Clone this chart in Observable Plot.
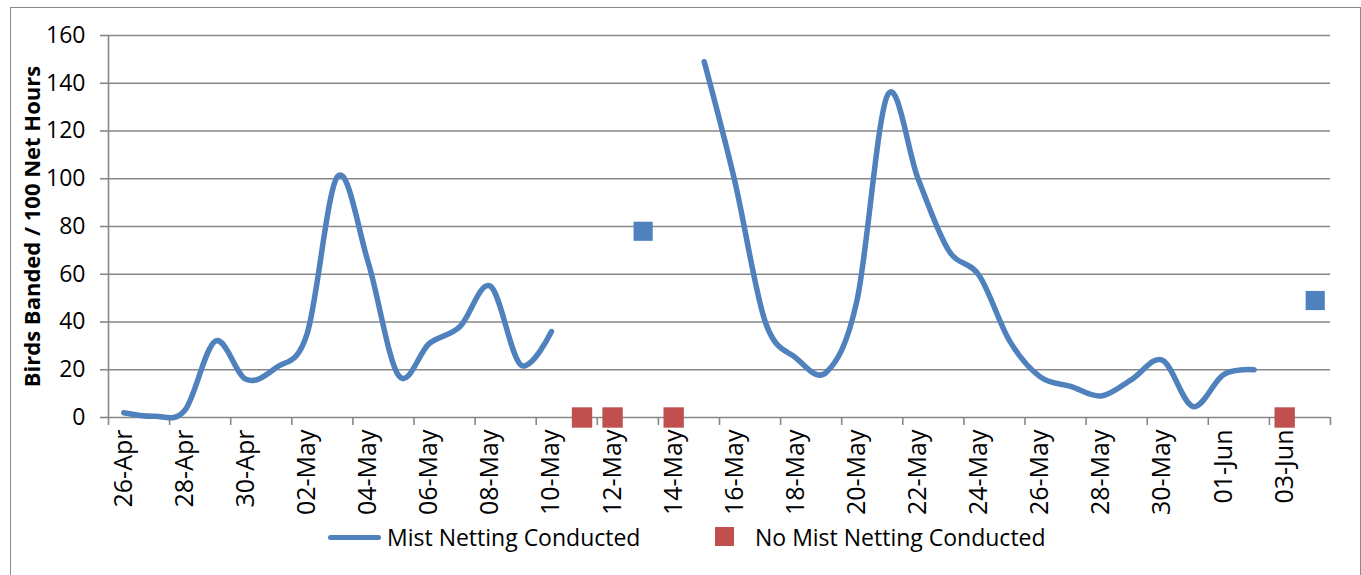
<!DOCTYPE html>
<html><head><meta charset="utf-8">
<script src="https://cdn.jsdelivr.net/npm/d3@7"></script>
<script src="https://cdn.jsdelivr.net/npm/@observablehq/plot@0.6"></script>
<style>
body{margin:0;background:#fff;font-family:"Open Sans",sans-serif;}
#wrap{position:relative;width:1361px;height:575px;overflow:hidden;background:#fff;}
#frame{position:absolute;left:10px;top:7px;width:1351px;height:620px;border:1.5px solid #8a8a8a;box-sizing:border-box;}
#chart{position:absolute;left:0;top:0;}
.lg{position:absolute;font-size:23px;line-height:30px;color:#000;white-space:nowrap;}
.sw-line{position:absolute;left:328px;top:535px;width:53px;height:5px;background:#4F81BD;border-radius:3px;}
.sw-sq{position:absolute;left:715px;top:527px;width:19px;height:19px;background:#C0504D;}
</style>
</head><body>
<div id="wrap">
  <div id="frame"></div>
  <div id="chart"></div>
  <div class="sw-line"></div><div class="lg" id="lg1" style="left:387px;top:522px;"></div>
  <div class="sw-sq"></div><div class="lg" id="lg2" style="left:755px;top:522px;"></div>
</div>
<script>
// ---- data ----
const dates = ["26-Apr","27-Apr","28-Apr","29-Apr","30-Apr",
  "01-May","02-May","03-May","04-May","05-May","06-May","07-May","08-May","09-May","10-May",
  "11-May","12-May","13-May","14-May","15-May","16-May","17-May","18-May","19-May","20-May",
  "21-May","22-May","23-May","24-May","25-May","26-May","27-May","28-May","29-May","30-May","31-May",
  "01-Jun","02-Jun","03-Jun","04-Jun"];
const mistNetting = [2, 0.5, 3, 32, 16, 21, 35, 101, 65, 17.5, 31, 38, 55, 22, 36,
  null, null, 78, null, 149, 99, 40, 25, 19, 49, 135, 100, 70, 59.5, 32, 17, 13, 9, 16, 24, 4.6,
  18, 20, null, 49];
const noNettingDates = ["11-May","12-May","14-May","03-Jun"];
const noNettingValues = [0, 0, 0, 0];
const yTicks = [0, 20, 40, 60, 80, 100, 120, 140, 160];
const seriesNames = ["Mist Netting Conducted", "No Mist Netting Conducted"];
const yTitle = "Birds Banded / 100 Net Hours";

// ---- derived tables ----
const lineData = dates.map((d, i) => ({x: i + 0.5, y: mistNetting[i]}));
const isolated = lineData.filter((p, i) => p.y != null &&
  (i === 0 || mistNetting[i-1] == null) && (i === dates.length-1 || mistNetting[i+1] == null));
const noNetting = noNettingDates.map((d, i) => ({x: dates.indexOf(d) + 0.5, y: noNettingValues[i]}));
const boundaryTicks = d3.range(0, dates.length + 1, 2);
const labelTicks = d3.range(0, dates.length, 2).map(i => i + 0.5);

const W = 1361, H = 520, yBottom = 417;
const grey = "#878787";
const chart = Plot.plot({
  width: W, height: H,
  marginLeft: 108, marginRight: 31, marginTop: 35, marginBottom: H - yBottom,
  style: {fontFamily: '"Open Sans", sans-serif', fontSize: "23px", color: "#000", background: "transparent", overflow: "visible"},
  x: {domain: [0, dates.length], axis: null},
  y: {domain: [0, 160], axis: null},
  marks: [
    Plot.gridY(yTicks, {stroke: grey, strokeOpacity: 1, strokeWidth: 1.6}),
    Plot.ruleX([0], {stroke: grey, strokeWidth: 1.6}),
    Plot.axisY({ticks: yTicks, tickSize: 8, tickPadding: 15, stroke: grey, strokeWidth: 1.6, fill: "#000", label: null}),
    Plot.axisX({ticks: boundaryTicks, tickSize: 8, tickFormat: () => "", stroke: grey, strokeWidth: 1.6, label: null}),
    Plot.axisX({ticks: labelTicks, tickSize: 0, tickPadding: 12, tickRotate: -90, fontSize: 25,
      tickFormat: v => dates[Math.floor(v)], fill: "#000", label: null}),
    Plot.text([yTitle], {frameAnchor: "left", dx: -76, rotate: -90, textAnchor: "middle", fontWeight: "bold", fontSize: 22, fill: "#000"}),
    Plot.line(lineData, {x: "x", y: "y", stroke: "#4F81BD", strokeWidth: 5.5, curve: "cardinal", tension: 0, strokeLinecap: "round", strokeLinejoin: "round"}),
    Plot.dot(isolated, {x: "x", y: "y", symbol: "square", r: 10.8, fill: "#4F81BD", stroke: null}),
    Plot.dot(noNetting, {x: "x", y: "y", symbol: "square", r: 11.5, fill: "#C0504D", stroke: null})
  ]
});
document.getElementById("chart").appendChild(chart);
document.getElementById("lg1").textContent = seriesNames[0];
document.getElementById("lg2").textContent = seriesNames[1];
</script>
</body></html>
